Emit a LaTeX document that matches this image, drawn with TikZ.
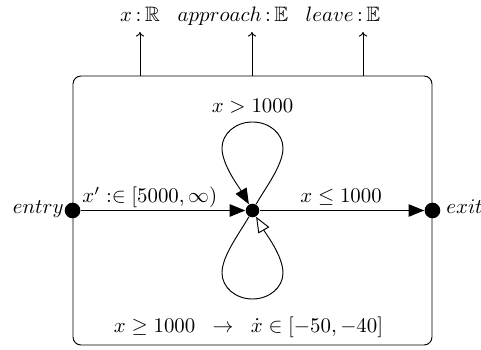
\documentclass[tikz,border=0pt]{standalone}
\usepackage{amssymb}
\usetikzlibrary{arrows.meta}
\begin{document}
\begin{tikzpicture}[x=0.48pt,y=-0.48pt, line width=0.45pt,
  dot/.style={circle,fill,inner sep=0pt,minimum size=7.5pt},
  cdot/.style={circle,fill,inner sep=0pt,minimum size=6.5pt},
  statebox/.style={draw,rounded corners=3.8pt,inner sep=0pt,minimum width=172.3pt,minimum height=129.1pt},
  tr/.style={-{Triangle[length=7.5pt,width=6pt]}},
  tro/.style={-{Triangle[open,length=7.5pt,width=6pt,fill=white]}},
  lbl/.style={inner sep=0pt,anchor=base},
  outlbl/.style={inner sep=0pt,anchor=base},
  outarr/.style={-{To[length=2.2pt,width=4pt]}}]
\useasboundingbox (0,0) rectangle (481,350);
% state box
\node[statebox] (box) at (252.5,210.5) {};
% outputs
\coordinate (o1) at (140,76);  \coordinate (o1t) at (140,32);
\coordinate (o2) at (252,76);  \coordinate (o2t) at (252,32);
\coordinate (o3) at (363,76);  \coordinate (o3t) at (363,32);
\draw[outarr] (o1) -- (o1t);
\draw[outarr] (o2) -- (o2t);
\draw[outarr] (o3) -- (o3t);
\node[outlbl] (l1) at (140,22) {$x\,{:}\,\mathbb{R}$};
\node[outlbl] (l2) at (233,22) {$approach\,{:}\,\mathbb{E}$};
\node[outlbl] (l3) at (343,22) {$leave\,{:}\,\mathbb{E}$};
% points
\node[dot] (entry) at (box.west) {};
\node[dot] (exit) at (box.east) {};
\node[cdot] (c) at (252.5,210.5) {};
\node[inner sep=0pt,anchor=base east] (entrylbl) at (64,214) {$entry$};
\node[inner sep=0pt,anchor=base west] (exitlbl) at (446,214) {$exit$};
% transitions
\draw[tr] (entry) -- (c);
\draw[tr] (c) -- (exit);
\node[inner sep=0pt,anchor=base west] (t1) at (82,203) {$x' :\in [5000,\infty)$};
\node[lbl] (t2) at (341,203) {$x\leq 1000$};
% top loop
\coordinate (tr1) at (283,148);
\coordinate (ttop) at (252.5,122);
\coordinate (tl1) at (222,148);
\draw[tr] (c) .. controls (266,187) and (283,165) .. (tr1)
              .. controls (283,133.6) and (269.3,122) .. (ttop)
              .. controls (235.7,122) and (222,133.6) .. (tl1)
              .. controls (222,165) and (239,187) .. (c);
\node[lbl] (t3) at (252.5,113) {$x > 1000$};
% bottom loop
\coordinate (bl1) at (222,273);
\coordinate (bbot) at (252.5,299);
\coordinate (br1) at (283,273);
\draw[tro] (c) .. controls (239,234) and (222,256) .. (bl1)
              .. controls (222,287.4) and (235.7,299) .. (bbot)
              .. controls (269.3,299) and (283,287.4) .. (br1)
              .. controls (283,256) and (266,234) .. (c);
\node[lbl] (t4) at (248.5,333) {$x\geq 1000 \;\;\rightarrow\;\; \dot{x}\in[-50,-40]$};
\end{tikzpicture}
\end{document}
